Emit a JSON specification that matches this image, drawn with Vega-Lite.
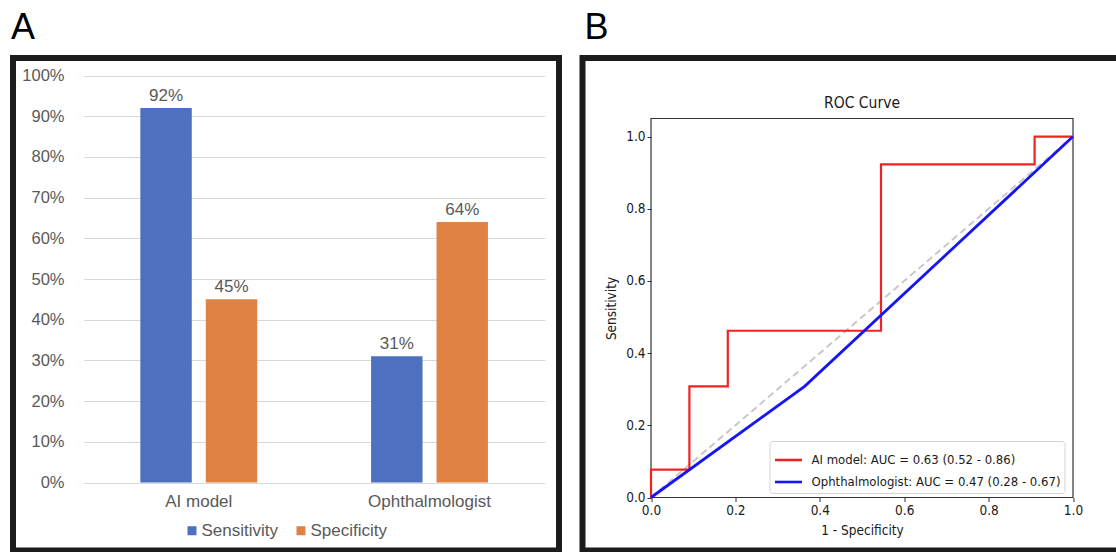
{
  "$schema": "https://vega.github.io/schema/vega-lite/v6.json",
  "background": "white",
  "padding": {"left": 8, "top": 6, "right": 0, "bottom": 0},
  "config": {"view": {"stroke": "#1c1c1c", "strokeWidth": 6, "fill": "white"}},
  "datasets": {
    "bars": [
      {"group": "AI model", "metric": "Sensitivity", "value": 0.92},
      {"group": "AI model", "metric": "Specificity", "value": 0.45},
      {"group": "Ophthalmologist", "metric": "Sensitivity", "value": 0.31},
      {"group": "Ophthalmologist", "metric": "Specificity", "value": 0.64}
    ],
    "roc": [
      {"series": "AI model: AUC = 0.63 (0.52 - 0.86)", "ord": 0, "fpr": 0, "tpr": 0},
      {"series": "AI model: AUC = 0.63 (0.52 - 0.86)", "ord": 1, "fpr": 0, "tpr": 0.077},
      {"series": "AI model: AUC = 0.63 (0.52 - 0.86)", "ord": 2, "fpr": 0.091, "tpr": 0.077},
      {"series": "AI model: AUC = 0.63 (0.52 - 0.86)", "ord": 3, "fpr": 0.091, "tpr": 0.308},
      {"series": "AI model: AUC = 0.63 (0.52 - 0.86)", "ord": 4, "fpr": 0.182, "tpr": 0.308},
      {"series": "AI model: AUC = 0.63 (0.52 - 0.86)", "ord": 5, "fpr": 0.182, "tpr": 0.462},
      {"series": "AI model: AUC = 0.63 (0.52 - 0.86)", "ord": 6, "fpr": 0.545, "tpr": 0.462},
      {"series": "AI model: AUC = 0.63 (0.52 - 0.86)", "ord": 7, "fpr": 0.545, "tpr": 0.923},
      {"series": "AI model: AUC = 0.63 (0.52 - 0.86)", "ord": 8, "fpr": 0.909, "tpr": 0.923},
      {"series": "AI model: AUC = 0.63 (0.52 - 0.86)", "ord": 9, "fpr": 0.909, "tpr": 1.0},
      {"series": "AI model: AUC = 0.63 (0.52 - 0.86)", "ord": 10, "fpr": 1.0, "tpr": 1.0},
      {"series": "Ophthalmologist: AUC = 0.47 (0.28 - 0.67)", "ord": 0, "fpr": 0, "tpr": 0},
      {"series": "Ophthalmologist: AUC = 0.47 (0.28 - 0.67)", "ord": 1, "fpr": 0.364, "tpr": 0.308},
      {"series": "Ophthalmologist: AUC = 0.47 (0.28 - 0.67)", "ord": 2, "fpr": 1.0, "tpr": 1.0}
    ],
    "diag": [
      {"fpr": 0, "tpr": 0},
      {"fpr": 1, "tpr": 1}
    ]
  },
  "spacing": 17.5,
  "resolve": {
    "scale": {"color": "independent", "x": "independent", "y": "independent"},
    "legend": {"color": "independent"}
  },
  "hconcat": [
    {
      "width": 546,
      "height": 492.5,
      "title": {"text": "A", "anchor": "start", "font": "Liberation Sans", "fontSize": 36, "fontWeight": "normal", "color": "#000000", "baseline": "alphabetic", "offset": -16.5, "dx": -2},
      "data": {"name": "bars"},
      "encoding": {
        "x": {
          "field": "group", "type": "nominal", "sort": ["AI model", "Ophthalmologist"],
          "scale": {"range": [70.4, 531.9], "paddingInner": 0, "paddingOuter": 0},
          "axis": {"orient": "bottom", "offset": -68, "domain": false, "ticks": false, "tickSize": 0, "labelPadding": 11, "labelAngle": 0, "labelFont": "Liberation Sans", "labelFontSize": 17, "labelColor": "#595959", "title": null, "grid": false}
        },
        "xOffset": {"field": "metric", "type": "nominal", "scale": {"paddingInner": 0.214, "paddingOuter": 0.87}},
        "y": {
          "field": "value", "type": "quantitative",
          "scale": {"domain": [0, 1], "range": [424.5, 17.5], "nice": false, "zero": false},
          "axis": {"values": [0, 0.1, 0.2, 0.3, 0.4, 0.5, 0.6, 0.7, 0.8, 0.9, 1], "format": ".0%", "offset": -51, "domain": false, "ticks": false, "tickSize": 0, "labelPadding": 0, "labelFont": "Liberation Sans", "labelFontSize": 16.5, "labelColor": "#595959", "grid": true, "gridColor": "#d9d9d9", "gridWidth": 1, "title": null}
        }
      },
      "layer": [
        {
          "mark": {"type": "bar"},
          "encoding": {
            "color": {
              "field": "metric", "type": "nominal",
              "scale": {"domain": ["Sensitivity", "Specificity"], "range": ["#4D71BF", "#DF8244"]},
              "legend": {"orient": "none", "legendX": 170.5, "legendY": 464, "direction": "horizontal", "title": null, "symbolType": "square", "symbolSize": 81, "symbolStrokeWidth": 0, "labelFont": "Liberation Sans", "labelFontSize": 17, "labelColor": "#595959", "labelOffset": 1, "columnPadding": 14, "padding": 0}
            }
          }
        },
        {
          "mark": {"type": "text", "baseline": "alphabetic", "dy": -7, "font": "Liberation Sans", "fontSize": 17, "fill": "#595959"},
          "encoding": {"text": {"field": "value", "type": "quantitative", "format": ".0%"}}
        }
      ]
    },
    {
      "width": 540,
      "height": 492.5,
      "title": {"text": "B", "anchor": "start", "font": "Liberation Sans", "fontSize": 36, "fontWeight": "normal", "color": "#000000", "baseline": "alphabetic", "offset": -16.5, "dx": 2},
      "layer": [
        {
          "data": {"values": [{"x0": 0, "x1": 1, "y0": 0, "y1": 1.05}]},
          "mark": {"type": "rect", "filled": false, "stroke": "#333333", "strokeWidth": 1.2},
          "encoding": {
            "x": {
              "field": "x0", "type": "quantitative", "title": "1 - Specificity",
              "scale": {"domain": [0, 1], "range": [68.5, 490.5], "nice": false, "zero": false},
              "axis": {"values": [0, 0.2, 0.4, 0.6, 0.8, 1], "format": ".1f", "orient": "bottom", "offset": -53, "domain": false, "grid": false, "ticks": true, "tickSize": 4, "tickColor": "#333333", "labelFlush": false, "labelPadding": 2, "labelFont": "DejaVu Sans Condensed", "labelFontSize": 13.5, "labelColor": "#1a1a1a", "titleFont": "DejaVu Sans Condensed", "titleFontSize": 13.5, "titleFontWeight": "normal", "titleColor": "#1a1a1a", "titlePadding": 6}
            },
            "x2": {"field": "x1"},
            "y": {
              "field": "y0", "type": "quantitative", "title": "Sensitivity",
              "scale": {"domain": [0, 1.05], "range": [439.5, 60.5], "nice": false, "zero": false},
              "axis": {"values": [0, 0.2, 0.4, 0.6, 0.8, 1], "format": ".1f", "orient": "left", "offset": -68.5, "domain": false, "grid": false, "ticks": true, "tickSize": 4, "tickColor": "#333333", "labelFlush": false, "labelPadding": 2, "labelFont": "DejaVu Sans Condensed", "labelFontSize": 13.5, "labelColor": "#1a1a1a", "titleFont": "DejaVu Sans Condensed", "titleFontSize": 13.5, "titleFontWeight": "normal", "titleColor": "#1a1a1a", "titlePadding": 7}
            },
            "y2": {"field": "y1"}
          }
        },
        {
          "data": {"name": "diag"},
          "mark": {"type": "line", "stroke": "#c8c8c8", "strokeWidth": 2, "strokeDash": [7, 4]},
          "encoding": {
            "x": {"field": "fpr", "type": "quantitative", "title": "1 - Specificity"},
            "y": {"field": "tpr", "type": "quantitative", "title": "Sensitivity"}
          }
        },
        {
          "data": {"name": "roc"},
          "mark": {"type": "line"},
          "encoding": {
            "x": {"field": "fpr", "type": "quantitative", "title": "1 - Specificity"},
            "y": {"field": "tpr", "type": "quantitative", "title": "Sensitivity"},
            "order": {"field": "ord", "type": "quantitative"},
            "strokeWidth": {
              "field": "series", "type": "nominal", "legend": null,
              "scale": {"type": "ordinal", "domain": ["AI model: AUC = 0.63 (0.52 - 0.86)", "Ophthalmologist: AUC = 0.47 (0.28 - 0.67)"], "range": [2.2, 2.8]}
            },
            "color": {
              "field": "series", "type": "nominal",
              "scale": {"domain": ["AI model: AUC = 0.63 (0.52 - 0.86)", "Ophthalmologist: AUC = 0.47 (0.28 - 0.67)"], "range": ["#f02323", "#1515f5"]},
              "legend": {"orient": "none", "legendX": 187, "legendY": 383, "title": null, "symbolType": "stroke", "symbolSize": 729, "symbolStrokeWidth": 2.6, "labelFont": "DejaVu Sans Condensed", "labelFontSize": 13, "labelColor": "#1a1a1a", "labelOffset": 8, "labelLimit": 0, "padding": 4, "rowPadding": 0, "strokeColor": "#d5d5d5", "fillColor": "white", "cornerRadius": 3}
            }
          }
        },
        {
          "data": {"values": [{"x": 0.5, "y": 1.05, "t": "ROC Curve"}]},
          "mark": {"type": "text", "baseline": "alphabetic", "dy": -11, "font": "DejaVu Sans Condensed", "fontSize": 15.5, "fill": "#1a1a1a"},
          "encoding": {
            "x": {"field": "x", "type": "quantitative", "title": "1 - Specificity"},
            "y": {"field": "y", "type": "quantitative", "title": "Sensitivity"},
            "text": {"field": "t"}
          }
        }
      ]
    }
  ]
}
